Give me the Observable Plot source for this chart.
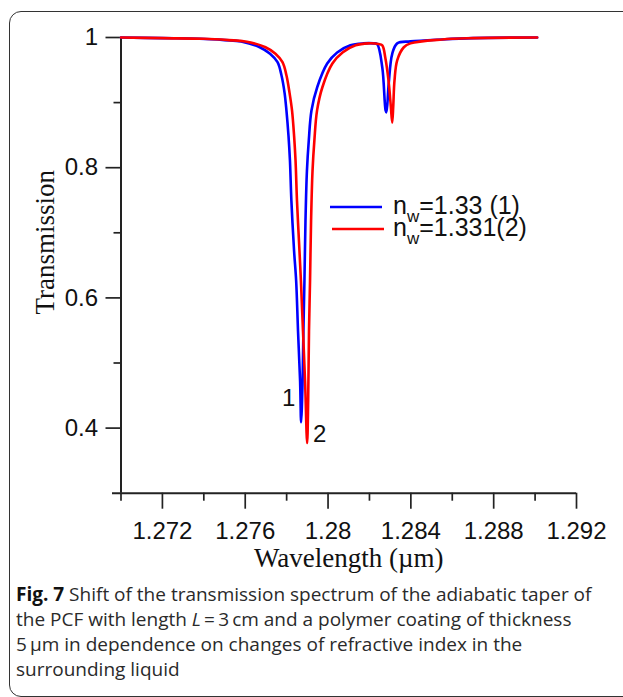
<!DOCTYPE html>
<html><head><meta charset="utf-8">
<script src="https://cdn.jsdelivr.net/npm/d3@7"></script>
<script src="https://cdn.jsdelivr.net/npm/@observablehq/plot@0.6"></script>
<style>
body{margin:0;background:#fff;}
#wrap{position:relative;width:623px;height:697px;overflow:hidden;background:#fff;}
#frame{position:absolute;left:9px;top:11px;width:660px;height:686px;border:1.6px solid #333;border-radius:12px;box-sizing:border-box;}
#chart{position:absolute;left:0;top:0;}
#legend{position:absolute;left:0;top:0;}
#caption{position:absolute;left:16px;top:582px;font-family:"Open Sans",sans-serif;font-size:19px;line-height:25px;color:#2a2a2a;white-space:nowrap;}
#caption b{font-weight:700;color:#111;}
</style></head>
<body>
<div id="wrap">
<div id="frame"></div>
<div id="chart"></div>
<svg id="legend" width="623" height="697"></svg>
<div id="caption"><b>Fig. 7</b> Shift of the transmission spectrum of the adiabatic taper of<br>the PCF with length <i>L</i>&#8201;=&#8201;3&#8201;cm and a polymer coating of thickness<br>5&#8201;µm in dependence on changes of refractive index in the<br>surrounding liquid</div>
</div>
<script>
// Series 1: n_w = 1.33 (blue)
const wl1 = [1.2700,1.2720,1.2738,1.2750,1.2758,1.2767,1.2772,1.27756,1.27775,1.27790,1.27799,1.27809,1.27816,1.27823,1.27836,1.27846,1.27855,1.27865,1.27870,1.27877,1.27881,1.27886,1.27891,1.27898,1.27907,1.27920,1.27948,1.27996,1.28044,1.28108,1.28171,1.28220,1.28237,1.28262,1.28278,1.28282,1.28293,1.28310,1.28334,1.28398,1.2855,1.2870,1.2901];
const tr1 = [1.000,0.999,0.998,0.996,0.994,0.985,0.975,0.962,0.942,0.915,0.888,0.849,0.811,0.749,0.672,0.626,0.549,0.472,0.409,0.472,0.549,0.626,0.718,0.795,0.842,0.888,0.924,0.960,0.977,0.988,0.991,0.991,0.990,0.954,0.888,0.885,0.929,0.975,0.991,0.994,0.997,0.999,1.000];
// Series 2: n_w = 1.331 (red)
const wl2 = [1.2700,1.2720,1.2740,1.2752,1.27601,1.27698,1.27746,1.27780,1.27799,1.27814,1.27826,1.27836,1.27843,1.27850,1.27862,1.27869,1.27879,1.27889,1.27899,1.27904,1.27908,1.27913,1.27918,1.27925,1.27934,1.27947,1.27973,1.28021,1.28070,1.28133,1.28195,1.28244,1.28262,1.28277,1.28292,1.28303,1.28310,1.28315,1.28321,1.28334,1.28366,1.28398,1.2855,1.2870,1.2901];
const tr2 = [1.000,0.999,0.998,0.996,0.994,0.985,0.975,0.962,0.942,0.915,0.888,0.849,0.811,0.749,0.672,0.626,0.549,0.472,0.377,0.442,0.549,0.626,0.718,0.795,0.842,0.888,0.924,0.960,0.977,0.988,0.991,0.990,0.988,0.968,0.934,0.895,0.869,0.895,0.934,0.965,0.985,0.991,0.997,0.999,1.000];

const seriesColors = ["#0000ff", "#ff0000"];
const legendLabels = ["=1.33 (1)", "=1.331(2)"];

const xMajorTicks = [1.272, 1.276, 1.280, 1.284, 1.288, 1.292];
const xMajorLabels = ["1.272", "1.276", "1.28", "1.284", "1.288", "1.292"];
const xMinorTicks = [1.270, 1.274, 1.278, 1.282, 1.286, 1.290];
const yMajorTicks = [0.4, 0.6, 0.8, 1.0];
const yMajorLabels = ["0.4", "0.6", "0.8", "1"];
const yMinorTicks = [0.5, 0.7, 0.9];

const curveLabels = ["1", "2"];
const curveLabelX = [1.27810, 1.27959];
const curveLabelY = [0.446, 0.391];

const d1 = wl1.map((w, i) => ({w, t: tr1[i]}));
const d2 = wl2.map((w, i) => ({w, t: tr2[i]}));
const ann = curveLabels.map((s, i) => ({s, x: curveLabelX[i], y: curveLabelY[i]}));

const sans = "'Liberation Sans', Arial, sans-serif";
const serif = "'Liberation Serif', 'Times New Roman', serif";

const chart = Plot.plot({
  width: 623, height: 580,
  marginLeft: 120.5, marginRight: 47, marginTop: 37, marginBottom: 87.3,
  x: {domain: [1.270, 1.292]},
  y: {domain: [0.3, 1]},
  style: {background: "transparent", fontFamily: sans, color: "#111", overflow: "visible"},
  marks: [
    Plot.axisX(xMajorTicks, {tickSize: 16, tickPadding: 13, tickFormat: d => xMajorLabels[xMajorTicks.indexOf(d)], fontSize: 24, strokeWidth: 1.7, stroke: "#222", fill: "#111", label: null}),
    Plot.axisX(xMinorTicks, {tickSize: 8, tickFormat: () => "", strokeWidth: 1.7, stroke: "#222", label: null}),
    Plot.axisY(yMajorTicks, {tickSize: 15, tickPadding: 8, tickFormat: d => yMajorLabels[yMajorTicks.indexOf(d)], fontSize: 24, strokeWidth: 1.7, stroke: "#222", fill: "#111", label: null}),
    Plot.axisY(yMinorTicks, {tickSize: 7, tickFormat: () => "", strokeWidth: 1.7, stroke: "#222", label: null}),
    Plot.ruleY([0.3], {stroke: "#222", strokeWidth: 2, insetLeft: -8.5}),
    Plot.ruleX([1.270], {y1: 0.3, y2: 1, stroke: "#222", strokeWidth: 2}),
    Plot.line(d1, {x: "w", y: "t", stroke: seriesColors[0], strokeWidth: 2.6, curve: "catmull-rom"}),
    Plot.line(d2, {x: "w", y: "t", stroke: seriesColors[1], strokeWidth: 2.6, curve: "catmull-rom"}),
    Plot.text(ann, {x: "x", y: "y", text: "s", fontSize: 24, fontFamily: sans, fill: "#111"}),
    Plot.text(["Wavelength (µm)"], {frameAnchor: "bottom", lineAnchor: "middle", textAnchor: "middle", dy: 65, fontSize: 27, fontFamily: serif, fill: "#111"}),
    Plot.text(["Transmission"], {frameAnchor: "left", lineAnchor: "middle", textAnchor: "middle", rotate: -90, dx: -76, dy: -23, fontSize: 27, fontFamily: serif, fill: "#111"})
  ]
});
document.getElementById("chart").appendChild(chart);

// Legend
const lg = d3.select("#legend");
const rowsY = [207, 229];
legendLabels.forEach((lab, i) => {
  const y = rowsY[i];
  lg.append("line").attr("x1", 330 + 2*i).attr("x2", 382 + 2*i).attr("y1", y).attr("y2", y)
    .attr("stroke", seriesColors[i]).attr("stroke-width", 2.6);
  const t = lg.append("text").attr("x", 393).attr("y", y + 7)
    .attr("font-family", sans).attr("font-size", 25).attr("fill", "#111");
  t.append("tspan").text("n");
  t.append("tspan").attr("dy", 8).attr("font-size", 17).text("w");
  t.append("tspan").attr("dy", -8).text(lab);
});
</script>
</body></html>
